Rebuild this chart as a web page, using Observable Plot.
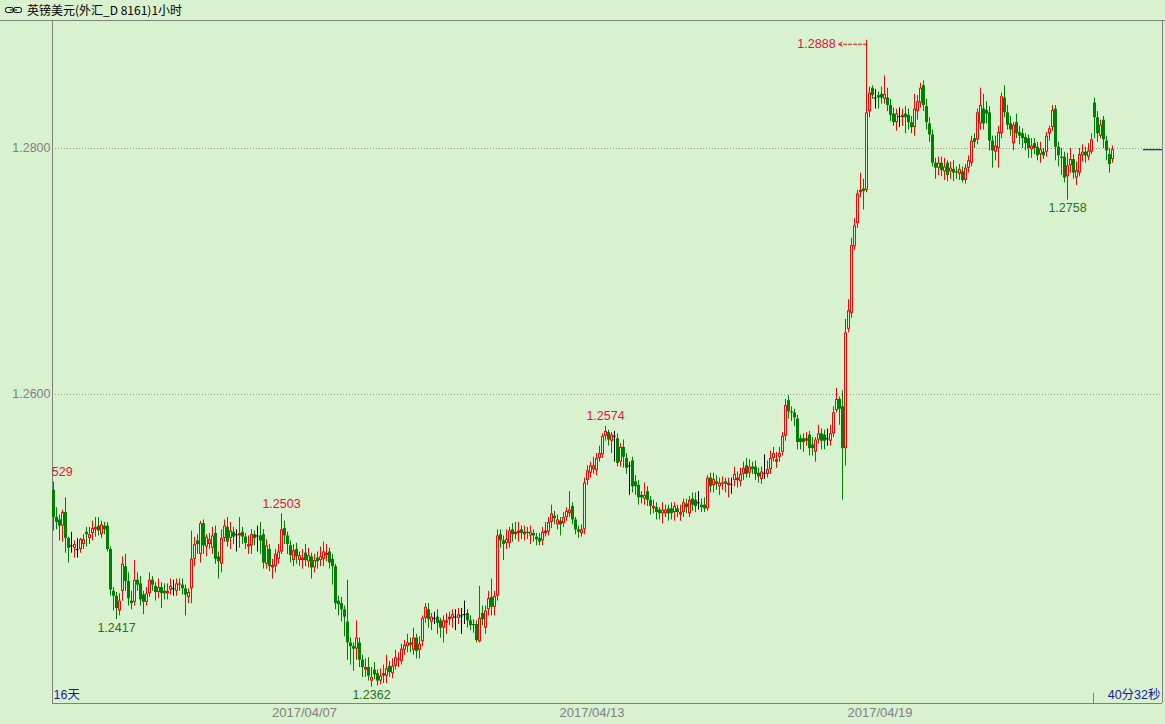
<!DOCTYPE html>
<html><head><meta charset="utf-8">
<script src="https://cdn.jsdelivr.net/npm/d3@7"></script>
<script src="https://cdn.jsdelivr.net/npm/@observablehq/plot@0.6"></script>
<style>
html,body{margin:0;padding:0;background:#d8f1cf;}
body{width:1165px;height:724px;overflow:hidden;}
#title{height:20px;border-bottom:1px solid #808080;box-sizing:content-box;font:12px "Noto Sans CJK SC",sans-serif;line-height:20px;color:#000;display:flex;align-items:center;}
#title svg{margin-left:5px;margin-right:5px;}
#chart svg{display:block;}
</style></head><body>
<div id="title"><svg width="17" height="8" viewBox="0 0 17 8"><rect x="0.5" y="1.5" width="8" height="5" rx="2" fill="none" stroke="#000"/><rect x="8.5" y="1.5" width="8" height="5" rx="2" fill="none" stroke="#000"/><line x1="5" y1="4" x2="12" y2="4" stroke="#000"/></svg><span>英镑美元(外汇_D 8161)1小时</span></div>
<div id="chart"></div>
<script>
// Hourly GBP/USD candles (oldest first)
const open = [1.2522,1.2500,1.2498,1.2493,1.2504,1.2483,1.2477,1.2475,1.2474,1.2474,
1.2478,1.2488,1.2483,1.2487,1.2490,1.2493,1.2486,1.2493,1.2493,1.2474,
1.2440,1.2436,1.2424,1.2440,1.2460,1.2448,1.2432,1.2431,1.2449,1.2446,
1.2437,1.2431,1.2438,1.2449,1.2444,1.2439,1.2443,1.2440,1.2438,1.2441,
1.2442,1.2440,1.2445,1.2445,1.2442,1.2435,1.2442,1.2466,1.2481,1.2470,
1.2495,1.2476,1.2478,1.2475,1.2487,1.2468,1.2462,1.2483,1.2492,1.2483,
1.2488,1.2486,1.2485,1.2488,1.2484,1.2476,1.2477,1.2486,1.2485,1.2485,
1.2486,1.2462,1.2474,1.2459,1.2460,1.2466,1.2472,1.2491,1.2485,1.2477,
1.2465,1.2474,1.2465,1.2465,1.2471,1.2464,1.2468,1.2459,1.2467,1.2465,
1.2466,1.2469,1.2472,1.2466,1.2460,1.2432,1.2430,1.2425,1.2415,1.2398,
1.2395,1.2393,1.2398,1.2384,1.2376,1.2378,1.2367,1.2376,1.2373,1.2367,
1.2371,1.2371,1.2379,1.2373,1.2379,1.2384,1.2383,1.2392,1.2395,1.2398,
1.2392,1.2402,1.2392,1.2399,1.2418,1.2425,1.2415,1.2418,1.2419,1.2416,
1.2410,1.2414,1.2417,1.2418,1.2419,1.2418,1.2420,1.2421,1.2422,1.2416,
1.2413,1.2413,1.2399,1.2422,1.2410,1.2425,1.2435,1.2427,1.2436,1.2486,
1.2481,1.2479,1.2479,1.2490,1.2486,1.2487,1.2490,1.2486,1.2488,1.2485,
1.2487,1.2484,1.2483,1.2481,1.2487,1.2488,1.2496,1.2501,1.2494,1.2497,
1.2495,1.2500,1.2503,1.2509,1.2498,1.2490,1.2487,1.2490,1.2530,1.2536,
1.2539,1.2538,1.2548,1.2551,1.2566,1.2569,1.2562,1.2566,1.2564,1.2545,
1.2557,1.2548,1.2542,1.2546,1.2529,1.2526,1.2518,1.2515,1.2521,1.2514,
1.2507,1.2508,1.2506,1.2503,1.2503,1.2507,1.2507,1.2504,1.2507,1.2502,
1.2504,1.2511,1.2503,1.2515,1.2514,1.2512,1.2510,1.2510,1.2507,1.2532,
1.2526,1.2529,1.2525,1.2527,1.2529,1.2526,1.2527,1.2530,1.2530,1.2529,
1.2535,1.2542,1.2536,1.2541,1.2541,1.2536,1.2531,1.2536,1.2535,1.2539,
1.2548,1.2545,1.2549,1.2553,1.2566,1.2595,1.2586,1.2585,1.2580,1.2564,
1.2564,1.2562,1.2567,1.2559,1.2553,1.2563,1.2568,1.2567,1.2564,1.2562,
1.2568,1.2587,1.2596,1.2590,1.2556,1.2653,1.2666,1.2720,1.2739,1.2764,
1.2767,1.2766,1.2830,1.2849,1.2841,1.2843,1.2844,1.2840,1.2841,1.2835,
1.2828,1.2821,1.2826,1.2825,1.2828,1.2827,1.2821,1.2817,1.2830,1.2837,
1.2851,1.2834,1.2820,1.2811,1.2788,1.2784,1.2788,1.2781,1.2788,1.2781,
1.2783,1.2781,1.2779,1.2781,1.2774,1.2784,1.2788,1.2808,1.2807,1.2820,
1.2832,1.2831,1.2829,1.2806,1.2797,1.2800,1.2812,1.2841,1.2829,1.2820,
1.2804,1.2821,1.2813,1.2812,1.2809,1.2808,1.2799,1.2804,1.2801,1.2795,
1.2797,1.2797,1.2812,1.2817,1.2832,1.2801,1.2793,1.2793,1.2777,1.2786,
1.2791,1.2776,1.2780,1.2794,1.2797,1.2793,1.2797,1.2837,1.2825,1.2810,
1.2823,1.2806,1.2795,1.2791];
const high = [1.2529,1.2508,1.2502,1.2506,1.2516,1.2484,1.2488,1.2481,1.2483,1.2483,
1.2486,1.2492,1.2492,1.2497,1.2500,1.2500,1.2497,1.2496,1.2496,1.2476,
1.2443,1.2439,1.2438,1.2468,1.2470,1.2455,1.2440,1.2465,1.2455,1.2452,
1.2440,1.2443,1.2455,1.2452,1.2447,1.2450,1.2447,1.2446,1.2446,1.2450,
1.2449,1.2450,1.2450,1.2450,1.2445,1.2442,1.2489,1.2484,1.2486,1.2497,
1.2498,1.2486,1.2487,1.2492,1.2493,1.2472,1.2490,1.2498,1.2500,1.2496,
1.2492,1.2490,1.2500,1.2492,1.2487,1.2485,1.2490,1.2489,1.2493,1.2496,
1.2490,1.2482,1.2478,1.2466,1.2474,1.2478,1.2503,1.2497,1.2488,1.2481,
1.2478,1.2479,1.2472,1.2474,1.2478,1.2475,1.2471,1.2470,1.2472,1.2476,
1.2480,1.2478,1.2475,1.2470,1.2462,1.2436,1.2435,1.2428,1.2449,1.2402,
1.2398,1.2416,1.2402,1.2388,1.2385,1.2386,1.2378,1.2382,1.2376,1.2377,
1.2380,1.2388,1.2383,1.2385,1.2392,1.2390,1.2397,1.2400,1.2405,1.2402,
1.2410,1.2405,1.2403,1.2420,1.2430,1.2430,1.2422,1.2423,1.2425,1.2418,
1.2420,1.2422,1.2423,1.2425,1.2425,1.2426,1.2426,1.2432,1.2425,1.2420,
1.2417,1.2416,1.2444,1.2428,1.2428,1.2440,1.2450,1.2440,1.2490,1.2490,
1.2485,1.2490,1.2492,1.2495,1.2496,1.2496,1.2493,1.2493,1.2492,1.2493,
1.2490,1.2487,1.2487,1.2492,1.2496,1.2500,1.2510,1.2505,1.2502,1.2500,
1.2504,1.2508,1.2521,1.2512,1.2500,1.2493,1.2494,1.2532,1.2542,1.2545,
1.2549,1.2552,1.2558,1.2568,1.2574,1.2571,1.2569,1.2570,1.2568,1.2560,
1.2563,1.2552,1.2545,1.2549,1.2534,1.2530,1.2521,1.2528,1.2525,1.2517,
1.2514,1.2512,1.2508,1.2512,1.2510,1.2510,1.2512,1.2512,1.2510,1.2510,
1.2515,1.2515,1.2517,1.2520,1.2520,1.2521,1.2515,1.2516,1.2534,1.2536,
1.2536,1.2534,1.2532,1.2533,1.2532,1.2532,1.2532,1.2541,1.2537,1.2540,
1.2545,1.2548,1.2547,1.2545,1.2546,1.2540,1.2541,1.2551,1.2546,1.2554,
1.2557,1.2553,1.2557,1.2569,1.2596,1.2599,1.2590,1.2588,1.2583,1.2567,
1.2568,1.2569,1.2570,1.2565,1.2565,1.2575,1.2572,1.2571,1.2572,1.2575,
1.2590,1.2605,1.2598,1.2603,1.2661,1.2677,1.2727,1.2743,1.2766,1.2780,
1.2775,1.2888,1.2850,1.2851,1.2848,1.2846,1.2850,1.2859,1.2849,1.2840,
1.2833,1.2832,1.2833,1.2832,1.2834,1.2832,1.2826,1.2844,1.2843,1.2853,
1.2855,1.2840,1.2825,1.2815,1.2792,1.2793,1.2793,1.2792,1.2790,1.2789,
1.2790,1.2785,1.2787,1.2785,1.2787,1.2794,1.2810,1.2812,1.2832,1.2849,
1.2844,1.2838,1.2834,1.2810,1.2810,1.2818,1.2845,1.2851,1.2835,1.2826,
1.2821,1.2828,1.2818,1.2816,1.2812,1.2811,1.2808,1.2808,1.2805,1.2805,
1.2800,1.2813,1.2818,1.2835,1.2835,1.2805,1.2800,1.2797,1.2796,1.2800,
1.2795,1.2789,1.2800,1.2803,1.2801,1.2804,1.2812,1.2841,1.2830,1.2823,
1.2826,1.2810,1.2800,1.2802];
const low = [1.2489,1.2490,1.2481,1.2480,1.2471,1.2463,1.2471,1.2467,1.2467,1.2471,
1.2474,1.2476,1.2478,1.2481,1.2484,1.2485,1.2483,1.2486,1.2472,1.2436,
1.2424,1.2417,1.2420,1.2432,1.2440,1.2428,1.2425,1.2428,1.2440,1.2428,
1.2421,1.2428,1.2435,1.2440,1.2432,1.2434,1.2426,1.2433,1.2433,1.2437,
1.2436,1.2436,1.2440,1.2437,1.2420,1.2430,1.2430,1.2460,1.2470,1.2463,
1.2470,1.2468,1.2474,1.2470,1.2462,1.2450,1.2455,1.2480,1.2476,1.2474,
1.2478,1.2472,1.2475,1.2478,1.2474,1.2470,1.2470,1.2477,1.2472,1.2470,
1.2458,1.2458,1.2456,1.2450,1.2455,1.2462,1.2470,1.2478,1.2470,1.2463,
1.2460,1.2462,1.2460,1.2458,1.2460,1.2459,1.2450,1.2455,1.2458,1.2460,
1.2460,1.2464,1.2458,1.2445,1.2425,1.2420,1.2415,1.2403,1.2384,1.2380,
1.2375,1.2384,1.2378,1.2370,1.2370,1.2367,1.2362,1.2368,1.2363,1.2364,
1.2365,1.2365,1.2370,1.2369,1.2376,1.2378,1.2380,1.2388,1.2390,1.2390,
1.2388,1.2385,1.2385,1.2395,1.2414,1.2410,1.2408,1.2413,1.2405,1.2402,
1.2398,1.2405,1.2412,1.2410,1.2408,1.2413,1.2405,1.2413,1.2410,1.2408,
1.2406,1.2398,1.2398,1.2412,1.2405,1.2420,1.2420,1.2420,1.2432,1.2475,
1.2465,1.2474,1.2475,1.2480,1.2482,1.2480,1.2482,1.2481,1.2482,1.2478,
1.2480,1.2477,1.2477,1.2477,1.2484,1.2485,1.2491,1.2494,1.2490,1.2485,
1.2492,1.2497,1.2500,1.2494,1.2486,1.2483,1.2484,1.2486,1.2526,1.2532,
1.2535,1.2534,1.2545,1.2548,1.2562,1.2558,1.2552,1.2545,1.2541,1.2541,
1.2540,1.2535,1.2518,1.2520,1.2518,1.2510,1.2511,1.2510,1.2509,1.2502,
1.2503,1.2498,1.2498,1.2495,1.2500,1.2497,1.2498,1.2497,1.2500,1.2497,
1.2500,1.2503,1.2500,1.2505,1.2504,1.2506,1.2504,1.2504,1.2505,1.2520,
1.2520,1.2522,1.2518,1.2522,1.2520,1.2516,1.2519,1.2525,1.2524,1.2525,
1.2530,1.2532,1.2532,1.2535,1.2530,1.2528,1.2527,1.2531,1.2532,1.2535,
1.2545,1.2540,1.2545,1.2550,1.2562,1.2580,1.2578,1.2574,1.2555,1.2555,
1.2553,1.2558,1.2550,1.2550,1.2545,1.2560,1.2555,1.2555,1.2558,1.2558,
1.2565,1.2585,1.2575,1.2514,1.2542,1.2650,1.2662,1.2717,1.2735,1.2760,
1.2750,1.2764,1.2825,1.2840,1.2832,1.2832,1.2836,1.2836,1.2830,1.2822,
1.2818,1.2814,1.2817,1.2818,1.2812,1.2815,1.2812,1.2810,1.2823,1.2833,
1.2830,1.2815,1.2805,1.2785,1.2775,1.2778,1.2777,1.2774,1.2773,1.2775,
1.2773,1.2775,1.2774,1.2772,1.2771,1.2780,1.2785,1.2800,1.2803,1.2815,
1.2815,1.2820,1.2798,1.2784,1.2790,1.2784,1.2808,1.2825,1.2815,1.2810,
1.2798,1.2808,1.2803,1.2800,1.2798,1.2792,1.2792,1.2795,1.2790,1.2788,
1.2791,1.2793,1.2806,1.2814,1.2790,1.2785,1.2778,1.2772,1.2758,1.2780,
1.2775,1.2770,1.2777,1.2789,1.2788,1.2790,1.2795,1.2808,1.2805,1.2808,
1.2800,1.2790,1.2780,1.2788];
const close = [1.2500,1.2496,1.2493,1.2504,1.2483,1.2475,1.2477,1.2478,1.2474,1.2482,
1.2482,1.2486,1.2486,1.2491,1.2492,1.2489,1.2494,1.2490,1.2474,1.2441,
1.2436,1.2426,1.2432,1.2462,1.2448,1.2434,1.2430,1.2449,1.2445,1.2433,
1.2431,1.2438,1.2449,1.2445,1.2439,1.2443,1.2438,1.2438,1.2440,1.2444,
1.2442,1.2446,1.2446,1.2442,1.2437,1.2439,1.2466,1.2478,1.2478,1.2495,
1.2477,1.2484,1.2482,1.2485,1.2466,1.2464,1.2483,1.2493,1.2480,1.2489,
1.2484,1.2486,1.2487,1.2484,1.2479,1.2478,1.2486,1.2483,1.2485,1.2481,
1.2463,1.2477,1.2460,1.2461,1.2470,1.2472,1.2490,1.2485,1.2478,1.2469,
1.2473,1.2468,1.2469,1.2467,1.2465,1.2469,1.2459,1.2465,1.2464,1.2468,
1.2472,1.2471,1.2463,1.2460,1.2430,1.2429,1.2425,1.2419,1.2398,1.2395,
1.2393,1.2402,1.2384,1.2378,1.2378,1.2371,1.2370,1.2372,1.2367,1.2371,
1.2373,1.2377,1.2374,1.2379,1.2386,1.2385,1.2393,1.2396,1.2398,1.2396,
1.2402,1.2391,1.2397,1.2418,1.2427,1.2417,1.2419,1.2418,1.2414,1.2410,
1.2416,1.2416,1.2419,1.2421,1.2419,1.2421,1.2420,1.2421,1.2416,1.2412,
1.2412,1.2400,1.2418,1.2417,1.2424,1.2434,1.2427,1.2436,1.2485,1.2481,
1.2478,1.2482,1.2489,1.2486,1.2488,1.2489,1.2487,1.2488,1.2487,1.2488,
1.2485,1.2482,1.2480,1.2488,1.2489,1.2496,1.2503,1.2499,1.2498,1.2494,
1.2500,1.2505,1.2506,1.2498,1.2490,1.2488,1.2490,1.2528,1.2538,1.2542,
1.2542,1.2548,1.2552,1.2566,1.2570,1.2563,1.2567,1.2566,1.2544,1.2557,
1.2549,1.2540,1.2542,1.2525,1.2525,1.2516,1.2516,1.2518,1.2514,1.2509,
1.2509,1.2504,1.2503,1.2506,1.2506,1.2503,1.2503,1.2509,1.2504,1.2504,
1.2512,1.2508,1.2514,1.2510,1.2509,1.2512,1.2508,1.2507,1.2532,1.2525,
1.2531,1.2527,1.2528,1.2528,1.2527,1.2528,1.2527,1.2535,1.2532,1.2535,
1.2540,1.2535,1.2541,1.2539,1.2535,1.2533,1.2537,1.2536,1.2539,1.2548,
1.2552,1.2547,1.2552,1.2566,1.2591,1.2586,1.2585,1.2581,1.2561,1.2561,
1.2561,1.2564,1.2556,1.2556,1.2563,1.2568,1.2562,1.2562,1.2564,1.2568,
1.2585,1.2596,1.2588,1.2556,1.2650,1.2668,1.2721,1.2737,1.2763,1.2766,
1.2765,1.2829,1.2845,1.2843,1.2841,1.2841,1.2841,1.2844,1.2835,1.2827,
1.2821,1.2828,1.2826,1.2827,1.2825,1.2821,1.2817,1.2832,1.2838,1.2849,
1.2835,1.2821,1.2811,1.2788,1.2784,1.2788,1.2782,1.2785,1.2778,1.2784,
1.2780,1.2780,1.2783,1.2774,1.2784,1.2790,1.2806,1.2805,1.2829,1.2835,
1.2820,1.2828,1.2806,1.2798,1.2802,1.2813,1.2842,1.2829,1.2819,1.2815,
1.2819,1.2812,1.2810,1.2808,1.2804,1.2800,1.2802,1.2800,1.2794,1.2799,
1.2794,1.2810,1.2816,1.2831,1.2801,1.2794,1.2792,1.2776,1.2786,1.2791,
1.2780,1.2782,1.2795,1.2797,1.2794,1.2798,1.2807,1.2825,1.2812,1.2819,
1.2807,1.2798,1.2787,1.2799];

// Axis ticks and labels
const priceTicks = [1.26, 1.28];
const dateLabels = ["2017/04/07", "2017/04/13", "2017/04/19"];
const dateIndex = [83.67, 179.5, 275.5];   // candle index where each day label sits
// Annotated extremes
const highMarks = [{i: 0, v: 1.2529}, {i: 76, v: 1.2503}, {i: 184, v: 1.2574}];
const lowMarks = [{i: 21, v: 1.2417}, {i: 106, v: 1.2362}, {i: 338, v: 1.2758}];
const maxMark = [{i: 271, v: 1.2888}];
const spanText = ["16天"];
const timerText = ["40分32秒"];
const nowIndex = [346.67];

const BG = "#d8f1cf", RED = "#ff0000", GREEN = "#008000";
const n = close.length;
const candles = d3.range(n).map(i => ({
  i, o: open[i], h: high[i], l: low[i], c: close[i],
  top: Math.max(open[i], close[i]), bot: Math.min(open[i], close[i])
}));
const up = candles.filter(d => d.c > d.o);
const down = candles.filter(d => d.c < d.o);
const flat = candles.filter(d => d.c === d.o);
const upTall = up.filter(d => d.c - d.o >= 0.00025);

const chart = Plot.plot({
  width: 1165, height: 703,
  marginLeft: 52, marginRight: 3, marginTop: 0, marginBottom: 21,
  style: {background: BG, fontFamily: "'Liberation Sans', Arial, sans-serif", fontSize: "12.5px", overflow: "visible"},
  x: {domain: [-1/3, 369 + 2/3]},
  y: {domain: [1.234878, 1.290325]},
  marks: [
    Plot.gridY(priceTicks, {stroke: "#9a9a9a", strokeOpacity: 1, strokeDasharray: "1,2"}),
    Plot.axisY(priceTicks, {tickFormat: d => d.toFixed(4), tickSize: 0, tickPadding: 2, fill: "#808080", fontSize: 12.5, label: null}),
    Plot.axisX(dateIndex, {tickFormat: d => dateLabels[dateIndex.indexOf(d)], tickSize: 0, tickPadding: 4, fill: "#808080", fontSize: 13, label: null}),
    // frame edges
    Plot.ruleX([-1/3, 369 + 2/3], {stroke: "#808080"}),
    Plot.ruleY([1.234878], {stroke: "#808080"}),
    // wicks
    Plot.ruleX(up, {x: "i", y1: "l", y2: "h", stroke: RED}),
    Plot.ruleX(down, {x: "i", y1: "l", y2: "h", stroke: GREEN}),
    Plot.ruleX(flat, {x: "i", y1: "l", y2: "h", stroke: "#000"}),
    // bodies
    Plot.ruleX(down, {x: "i", y1: "top", y2: "bot", stroke: GREEN, strokeWidth: 3}),
    Plot.ruleX(up, {x: "i", y1: "top", y2: "bot", stroke: RED, strokeWidth: 3}),
    Plot.ruleX(upTall, {x: "i", y1: "top", y2: "bot", stroke: BG, strokeWidth: 1, insetTop: 1, insetBottom: 1}),
    Plot.ruleY(flat, {y: "c", x1: d => d.i - 0.5, x2: d => d.i + 0.5, stroke: "#000"}),
    // extreme labels
    Plot.text(highMarks, {x: "i", y: "v", text: d => d.v.toFixed(4), dy: -10, fill: "#e8103a", fontSize: 12.5, clip: true}),
    Plot.text(lowMarks, {x: "i", y: "v", text: d => d.v.toFixed(4), dy: 8, fill: "#2a6e1e", fontSize: 12.5}),
    Plot.arrow(maxMark, {x1: "i", x2: d => d.i - 9.3, y1: "v", y2: "v", dy: 4, stroke: RED, strokeDasharray: "3,2", headLength: 6, strokeWidth: 1}),
    Plot.text(maxMark, {x: d => d.i - 9.3, y: "v", text: d => d.v.toFixed(4), dy: 4, dx: -3, textAnchor: "end", fill: "#e8103a", fontSize: 12.5}),
    // current price marker and time tick
    Plot.ruleY([close[n - 1]], {insetLeft: 1091, stroke: "#000060"}),
    Plot.ruleX(nowIndex, {insetTop: 672, stroke: "#808080"}),
    Plot.text(spanText, {frameAnchor: "bottom-left", dx: 1, dy: -5, fill: "#1a1aa0", fontSize: 12.5, fontFamily: "'Liberation Sans','Noto Sans CJK SC',sans-serif"}),
    Plot.text(timerText, {frameAnchor: "bottom-right", dx: -2, dy: -5, fill: "#1a1aa0", fontSize: 12.5, fontFamily: "'Liberation Sans','Noto Sans CJK SC',sans-serif"})
  ]
});
document.getElementById("chart").appendChild(chart);
</script>
</body></html>
